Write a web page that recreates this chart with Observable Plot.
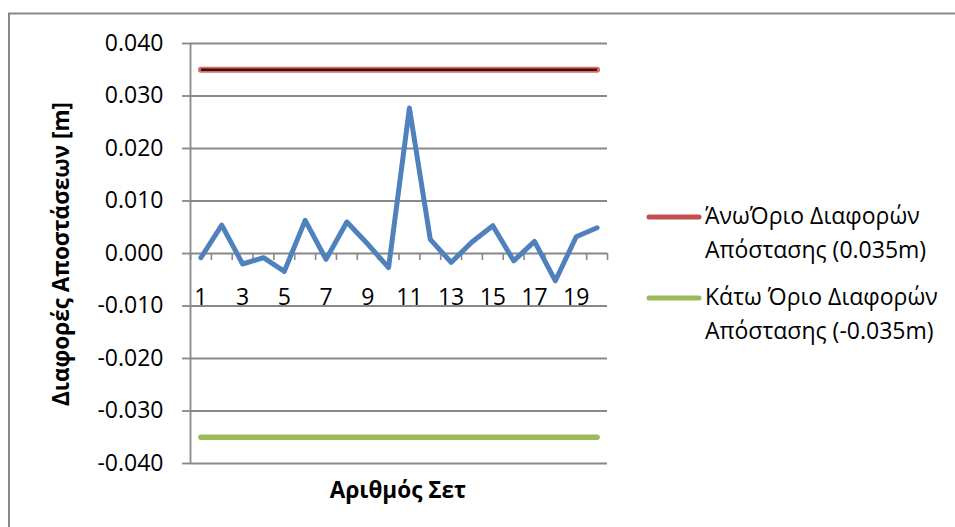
<!DOCTYPE html>
<html>
<head>
<meta charset="utf-8">
<script src="https://cdn.jsdelivr.net/npm/d3@7"></script>
<script src="https://cdn.jsdelivr.net/npm/@observablehq/plot@0.6"></script>
<style>
  html, body { margin: 0; padding: 0; background: #fff; overflow: hidden; }
  #chart svg { display: block; }
</style>
</head>
<body>
<div id="chart"></div>
<script>
// Distance differences per measurement set, with the ±0.035 m tolerance limits
const sets = [1, 2, 3, 4, 5, 6, 7, 8, 9, 10, 11, 12, 13, 14, 15, 16, 17, 18, 19, 20];
const differences = [-0.0008, 0.0054, -0.0020, -0.0008, -0.0034, 0.0063, -0.0011, 0.0060, 0.0018, -0.0027,
                     0.0277, 0.0027, -0.0017, 0.0022, 0.0053, -0.0014, 0.0023, -0.0052, 0.0032, 0.0049];
const upperLimit = 0.035;
const lowerLimit = -0.035;
const yTicks = [-0.04, -0.03, -0.02, -0.01, 0, 0.01, 0.02, 0.03, 0.04];
const xTickLabels = [1, 3, 5, 7, 9, 11, 13, 15, 17, 19];
const seriesNames = [
  ["ΆνωΌριο Διαφορών", "Απόστασης (0.035m)"],
  ["Κάτω Όριο Διαφορών", "Απόστασης (-0.035m)"]
];
const yTitle = "Διαφορές Αποστάσεων [m]";
const xTitle = "Αριθμός Σετ";

const W = 955, H = 527;
const FONT = "'Open Sans', sans-serif";
const GRID = "#888888";
const RED = "#C0504D", GREEN = "#9BBB59", BLUE = "#4F81BD";

const rows = sets.map((s, i) => ({set: s, diff: differences[i], upper: upperLimit, lower: lowerLimit}));
const edges = [0, ...sets].map(s => s + 0.5); // category boundaries along the x axis

const chart = Plot.plot({
  width: W,
  height: H,
  marginLeft: 190,
  marginRight: 348,
  marginTop: 43,
  marginBottom: 64,
  style: {fontFamily: FONT, background: "#fff", color: "#000", overflow: "hidden"},
  x: {domain: [0.5, 20.5], axis: null},
  y: {domain: [-0.04, 0.04], axis: null},
  marks: [
    Plot.ruleY(yTicks, {stroke: GRID, strokeWidth: 1.8}),
    Plot.ruleX([0.5], {stroke: GRID, strokeWidth: 1.8}),
    Plot.axisY({
      ticks: yTicks, tickFormat: d => d.toFixed(3), tickSize: 8, tickPadding: 19,
      fontSize: 23, stroke: GRID, strokeWidth: 1.8, label: null
    }),
    Plot.ruleX(edges, {x: d => d, y1: 0, y2: 0, insetBottom: -7, stroke: GRID, strokeWidth: 1.6}),
    Plot.text(xTickLabels, {x: d => d, y: 0, dy: 44, fontSize: 23, fill: "#000"}),
    // upper limit: red line with dark core
    Plot.line(rows, {x: "set", y: "upper", stroke: "#D96B68", strokeWidth: 6, strokeLinecap: "round"}),
    Plot.line(rows, {x: "set", y: "upper", stroke: "#3A1212", strokeWidth: 2.6, strokeLinecap: "butt"}),
    // lower limit
    Plot.line(rows, {x: "set", y: "lower", stroke: GREEN, strokeWidth: 5.5, strokeLinecap: "round"}),
    // measured differences
    Plot.line(rows, {x: "set", y: "diff", stroke: BLUE, strokeWidth: 5, strokeLinejoin: "round", strokeLinecap: "round"})
  ]
});

const svg = d3.select(chart);

// chart area border (right and bottom edges fall outside the view)
svg.insert("rect", ":first-child")
  .attr("x", 9).attr("y", 13.5).attr("width", W + 20).attr("height", H + 20)
  .attr("fill", "none").attr("stroke", GRID).attr("stroke-width", 2);

// axis titles
svg.append("text")
  .attr("transform", "translate(63,254) rotate(-90)")
  .attr("text-anchor", "middle").attr("dominant-baseline", "middle")
  .attr("font-family", FONT).attr("font-weight", "bold").attr("font-size", 22.5)
  .attr("fill", "#000").text(yTitle);
svg.append("text")
  .attr("x", 398).attr("y", 492)
  .attr("text-anchor", "middle").attr("dominant-baseline", "middle")
  .attr("font-family", FONT).attr("font-weight", "bold").attr("font-size", 22.5)
  .attr("fill", "#000").text(xTitle);

// legend
const legend = svg.append("g")
  .attr("font-family", FONT).attr("font-size", 23).attr("fill", "#000")
  .attr("text-anchor", "start");
[RED, GREEN].forEach((c, i) => {
  const y0 = 218 + i * 81;
  legend.append("line")
    .attr("x1", 649).attr("x2", 699).attr("y1", y0 - 1).attr("y2", y0 - 1)
    .attr("stroke", c).attr("stroke-width", 5).attr("stroke-linecap", "round");
  seriesNames[i].forEach((t, j) => {
    legend.append("text")
      .attr("x", 705).attr("y", y0 + j * 34)
      .attr("dominant-baseline", "middle").text(t);
  });
});

document.getElementById("chart").append(chart);
</script>
</body>
</html>
